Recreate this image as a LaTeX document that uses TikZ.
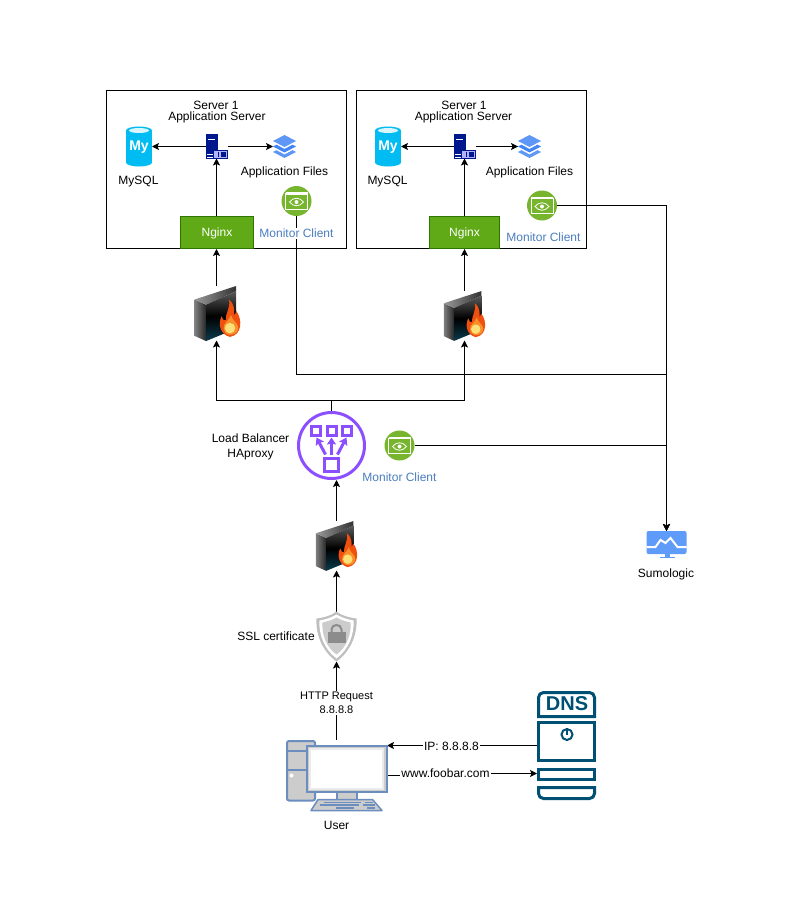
\documentclass[tikz,border=0pt]{standalone}
\usepackage{fontspec}
\setmainfont{Liberation Sans}
\usetikzlibrary{arrows.meta, shapes.geometric}
\definecolor{nginxfill}{HTML}{60A917}
\definecolor{nginxedge}{HTML}{2D7600}
\definecolor{monblue}{HTML}{4A7EBF}
\definecolor{mongreen}{HTML}{76B52D}
\definecolor{lbpurple}{HTML}{8C4FFF}
\definecolor{dnsteal}{HTML}{005073}
\definecolor{dbcyan}{HTML}{00BCF2}
\definecolor{navyrack}{HTML}{00188D}
\definecolor{layerblue}{HTML}{4285F4}
\definecolor{sumoblue}{HTML}{5F9BF8}
\definecolor{pcedge}{HTML}{6C8EBF}
\definecolor{pcgray}{HTML}{CCCCCC}
\definecolor{fwteal}{HTML}{0A3C4E}
\definecolor{flameout}{HTML}{F0500F}
\definecolor{flamemid}{HTML}{F9902A}
\definecolor{flamein}{HTML}{FCE07A}
\tikzset{
    conn/.style={-, black, line width=1pt},
    arrow/.style={-{Stealth[length=7pt,width=7pt,inset=1.5pt]}, black, line width=1pt},
    lab/.style={font=\fontsize{12}{14}\selectfont, align=center, inner sep=1pt},
    labsmall/.style={font=\fontsize{11}{14}\selectfont, align=center, inner sep=1pt, fill=white},
    labmon/.style={lab, text=monblue, fill=white},
    box/.style={draw=black, line width=1pt, fill=white},
    nginx/.style={draw=nginxedge, line width=1pt, fill=nginxfill, text=white, font=\fontsize{12}{14}\selectfont, minimum height=32pt, inner sep=0pt, text depth=1pt},
    icon/.style={inner sep=0pt, outer sep=0pt},
    lbcircle/.style={circle, draw=lbpurple, line width=3pt, minimum size=66pt, inner sep=0pt},
    pics/firewall/.style={code={
        \shade[left color=black!50, right color=black!85] (-22,-13) -- (-11,-8) -- (-11,27) -- (-22,22) -- cycle;
        \shade[left color=black!40, right color=black!80] (-22,-13) -- (18,-26) -- (18,-21) -- (-11,-8) -- cycle;
        \shade[top color=black!65, bottom color=fwteal, middle color=black] (-11,-8) -- (18,-21) -- (18,15) -- (-11,27) -- cycle;
        \fill[flameout] (12,23) .. controls (3,21) and (0,11) .. (4,3) .. controls (5,6) and (6,8) .. (8,7) .. controls (7,1) and (13,-5) .. (11,-13) .. controls (17,-8) and (16,-2) .. (16,2) .. controls (17,1) and (18,0) .. (18,-2) .. controls (24,6) and (24,21) .. (12,23) -- cycle;
        \fill[flamemid] (11.5,21) .. controls (5,20) and (4,12) .. (9,8) .. controls (10,7) and (12,5) .. (13,2) .. controls (14,7) and (20,10) .. (20,14) .. controls (20,19) and (16,21) .. (11.5,21) -- cycle;
        \fill[flamein] (12,14.5) ellipse (5 and 5);
    }},
    pics/shieldlock/.style={code={
        \fill[black!25] (0,-25) .. controls (5,-21) and (12,-19) .. (20,-18) .. controls (21,-2) and (14,15) .. (0,25) .. controls (-14,15) and (-21,-2) .. (-20,-18) .. controls (-12,-19) and (-5,-21) .. (0,-25) -- cycle;
        \fill[white] (0,-22) .. controls (5,-19) and (11,-17) .. (17,-16) .. controls (18,-2) and (12,13) .. (0,22) .. controls (-12,13) and (-18,-2) .. (-17,-16) .. controls (-11,-17) and (-5,-19) .. (0,-22) -- cycle;
        \fill[black!20] (0,-19) .. controls (5,-16) and (10,-15) .. (14,-14) .. controls (15,-2) and (10,11) .. (0,18) .. controls (-10,11) and (-15,-2) .. (-14,-14) .. controls (-10,-15) and (-5,-16) .. (0,-19) -- cycle;
        \draw[black!45, line width=2pt] (-5,-4) -- (-5,-7) .. controls (-5,-13) and (5,-13) .. (5,-7) -- (5,-4);
        \fill[black!45] (-9,-5) rectangle (9,6);
    }},
    pics/dbmysql/.style={code={
        \fill[dbcyan] (-13,-16) rectangle (13,16);
        \fill[dbcyan] (0,-16) ellipse (13 and 4);
        \fill[dbcyan] (0,16) ellipse (13 and 4);
        \fill[white!85!dbcyan] (0,-16) ellipse (10 and 2.5);
        \node[text=white, inner sep=0pt, font=\fontsize{14}{14}\bfseries\selectfont] (-my) at (0,1) {My};
    }},
    pics/rackserver/.style={code={
        \fill[navyrack] (-11,-12) rectangle (1,12);
        \fill[white] (-9,-8) rectangle (-2,-6.5);
        \fill[white] (-9.5,7) rectangle (-3,8.5);
        \fill[white] (-9.5,10) rectangle (-3,11);
        \draw[navyrack, line width=1pt, fill=white!70!blue] (-3,3.5) rectangle (10.5,11.5);
        \fill[navyrack] (1,5) rectangle (2.5,10);
        \fill[navyrack] (4,5) rectangle (9,10);
    }},
    pics/layerstack/.style={code={
        \fill[layerblue!85!white] (0,-11.5) -- (11.5,-5.5) -- (0,0.5) -- (-11.5,-5.5) -- cycle;
        \fill[layerblue] (-11.5,0) -- (-8,-1.8) -- (0,2.5) -- (8,-1.8) -- (11.5,0) -- (0,6) -- cycle;
        \fill[layerblue!85!white] (-11.5,5.5) -- (-8,3.7) -- (0,8) -- (8,3.7) -- (11.5,5.5) -- (0,11.5) -- cycle;
    }},
    pics/monitoreye/.style={code={
        \fill[mongreen] (0,0) circle (15);
        \draw[white, line width=1pt] (-11,-7.5) rectangle (11,8);
        \fill[white] (-11,-9) rectangle (11,-6.5);
        \draw[white, line width=0.8pt] (-7,1) .. controls (-3,-4) and (3,-4) .. (7,1) .. controls (3,6) and (-3,6) .. (-7,1) -- cycle;
        \fill[white] (0,1) circle (2);
    }},
    pics/lbfan/.style={code={
        \draw[lbpurple, line width=3pt] (-20,-19.5) rectangle (-11,-10.5);
        \draw[lbpurple, line width=3pt] (-4.5,-19.5) rectangle (4.5,-10.5);
        \draw[lbpurple, line width=3pt] (11,-19.5) rectangle (20,-10.5);
        \draw[lbpurple, line width=3pt] (-7,12.5) rectangle (7,26);
        \draw[lbpurple, line width=3pt, -{Stealth[length=7pt,width=9pt,inset=1pt]}] (-6,9) -- (-15,-8);
        \draw[lbpurple, line width=3pt, -{Stealth[length=7pt,width=9pt,inset=1pt]}] (0,9) -- (0,-8);
        \draw[lbpurple, line width=3pt, -{Stealth[length=7pt,width=9pt,inset=1pt]}] (6,9) -- (15,-8);
    }},
    pics/screenwave/.style={code={
        \fill[sumoblue, rounded corners=2pt] (-20.5,-13.5) rectangle (19.5,9.5);
        \draw[white, line width=2pt] (-20.5,2.5) -- (-11.5,2.5) -- (-6.5,-4.5) -- (-1.5,-1.5) -- (3.5,-6.5) -- (10.5,2.5) -- (19.5,2.5);
        \fill[sumoblue] (-2.5,9.5) rectangle (2.5,12.5);
        \fill[sumoblue] (-7.5,12.5) rectangle (7.5,13.5);
    }},
    pics/pcdesk/.style={code={
        \draw[pcedge, line width=2pt, fill=pcgray, rounded corners=2pt] (-49.5,-34.5) rectangle (-21.5,25);
        \draw[pcedge, line width=2pt] (-49.5,-25) -- (-30,-25);
        \draw[pcedge, line width=2pt] (-49.5,-5.5) -- (-30,-5.5);
        \fill[white] (-45,0) circle (2);
        \draw[pcedge, line width=2pt, fill=pcgray] (0,16) rectangle (20,25);
        \draw[pcedge, line width=2pt, fill=pcgray] (-30,-30) rectangle (50,16.5);
        \fill[white!92!black] (-27.5,-27.5) rectangle (47.5,14);
        \fill[white] (-25.5,-25.5) rectangle (45.5,12);
        \draw[pcedge, line width=1.5pt, fill=pcgray, line join=round] (-18.5,24) -- (36,24) -- (45.5,35) -- (-25.5,35) -- cycle;
        \draw[pcedge, line width=1.5pt] (-13,27) -- (24,27);
        \draw[pcedge, line width=1.5pt] (28,27) -- (36,27);
        \draw[pcedge, line width=1.5pt] (-17,29.5) -- (22,29.5);
        \draw[pcedge, line width=1.5pt] (26,29.5) -- (38,29.5);
        \draw[pcedge, line width=1.5pt] (-1,32.5) -- (17,32.5);
        \draw[pcedge, line width=1.5pt] (30,32.5) -- (38,32.5);
    }},
    pics/dnsbox/.style={code={
        \draw[dnsteal, line width=3pt] (-28,-29) [rounded corners=5pt] -- (-28,-53) -- (28,-53) [sharp corners] -- (28,-29) -- cycle;
        \draw[dnsteal, line width=3pt] (-28,-23) rectangle (28,15);
        \draw[dnsteal, line width=3pt] (-28,24) rectangle (28,34);
        \draw[dnsteal, line width=3pt] (-28,42) [rounded corners=5pt] -- (-28,53) -- (28,53) [sharp corners] -- (28,42) -- cycle;
        \draw[dnsteal, line width=2pt] (0.5,-11) circle (5.5);
        \draw[dnsteal, line width=2pt] (0.5,-16) -- (0.5,-10.5);
        \node[text=dnsteal, inner sep=0pt, font=\fontsize{20}{20}\bfseries\selectfont] (-title) at (0.5,-41.5) {DNS};
    }},
}
\begin{document}
\begin{tikzpicture}[x=1pt, y=-1pt]
    \useasboundingbox (0,0) rectangle (789,923);

    \node[box, minimum width=240pt, minimum height=158pt] (srvbox1) at (226.5,169.5) {};
    \node[box, minimum width=230pt, minimum height=158pt] (srvbox2) at (471.5,169.5) {};

    \node[icon, minimum width=26pt, minimum height=40pt] (db1) at (139,146.5) {};
    \node[icon, minimum width=26pt, minimum height=40pt] (db2) at (388,146.5) {};
    \node[icon, minimum width=22pt, minimum height=24pt] (rack1) at (216.5,146.5) {};
    \node[icon, minimum width=22pt, minimum height=24pt] (rack2) at (464.5,146.5) {};
    \node[icon, minimum width=23pt, minimum height=23pt] (files1) at (284.5,146.5) {};
    \node[icon, minimum width=23pt, minimum height=23pt] (files2) at (529.5,146.5) {};
    \node[icon, minimum width=30pt, minimum height=30pt] (mon1) at (296.5,201) {};
    \node[icon, minimum width=30pt, minimum height=30pt] (mon2) at (542,205.5) {};
    \node[icon, minimum width=30pt, minimum height=30pt] (mon3) at (399.5,445.5) {};
    \node[nginx, minimum width=72.5pt] (nginx1) at (217,232.5) {Nginx};
    \node[nginx, minimum width=70pt] (nginx2) at (464.5,232.5) {Nginx};
    \node[icon, minimum width=46pt, minimum height=55pt] (fw1) at (216.5,313) {};
    \node[icon, minimum width=40pt, minimum height=50pt] (fw2) at (464.5,315.5) {};
    \node[icon, minimum width=41pt, minimum height=50pt] (fw3) at (336.5,545.5) {};
    \node[lbcircle] (lb) at (331.5,445.5) {};
    \node[icon, minimum width=40pt, minimum height=50pt] (ssl) at (336.5,636.5) {};
    \node[icon, minimum width=40pt, minimum height=27pt] (sumo) at (666.5,544.5) {};
    \node[icon, minimum width=101pt, minimum height=71pt] (user) at (336.5,775.5) {};
    \node[icon, minimum width=59pt, minimum height=109pt] (dns) at (566.5,745.5) {};

    \coordinate (lbjoin) at (331.5,400.5);
    \coordinate (busone) at (500,374.5);
    \coordinate (ipin) at (387,745.5);
    \coordinate (wwwout) at (387,775.5);
    \coordinate (wwwin) at (537,773.5);

    \draw[arrow] (rack1.west) -- (db1.east);
    \draw[arrow] (rack1.east) -- (files1.west);
    \draw[arrow] (rack2.west) -- (db2.east);
    \draw[arrow] (rack2.east) -- (files2.west);
    \draw[arrow] (nginx1.north -| rack1) -- (rack1.south);
    \draw[arrow] (nginx2.north) -- (rack2.south);
    \draw[arrow] (fw1.north) -- (fw1.north |- nginx1.south);
    \draw[arrow] (fw2.north) -- (nginx2.south);
    \draw[conn] (lb.north) -- (lbjoin);
    \draw[arrow] (lbjoin) -| (fw1.south);
    \draw[arrow] (lbjoin) -| (fw2.south);
    \draw[arrow] (fw3.north) -- (fw3.north |- lb.south);
    \draw[arrow] (ssl.north) -- (fw3.south);
    \draw[arrow] (user.north) -- (ssl.south);
    \draw[arrow] (dns.west |- ipin) -- (ipin);
    \draw[arrow] (wwwout) -- ++(50,0) -- ++(0,-2) -- (wwwin);
    \draw[arrow] (mon1.south) |- (busone) -| (sumo.north);
    \draw[arrow] (mon2.east) -| (sumo.north);
    \draw[arrow] (mon3.east) -| (sumo.north);

    \pic (dbpic1) at (db1) {dbmysql};
    \pic (dbpic2) at (db2) {dbmysql};
    \pic at (rack1) {rackserver};
    \pic at (rack2) {rackserver};
    \pic at (files1) {layerstack};
    \pic at (files2) {layerstack};
    \pic at (mon1) {monitoreye};
    \pic at (mon2) {monitoreye};
    \pic at (mon3) {monitoreye};
    \pic[scale=1.04] at ([xshift=1pt]fw1) {firewall};
    \pic[scale=0.94] at (fw2) {firewall};
    \pic[scale=0.94] at (fw3) {firewall};
    \pic at (lb) {lbfan};
    \pic at (ssl) {shieldlock};
    \pic at ([xshift=0.5pt]sumo) {screenwave};
    \pic at (user) {pcdesk};
    \pic (dnspic) at (dns) {dnsbox};

    \node[lab] (srvname1) at (216,105) {Server 1};
    \node[lab] (srvrole1) at (217,117.5) {Application Server};
    \node[lab] (srvname2) at (464,105) {Server 1};
    \node[lab] (srvrole2) at (463.5,117.5) {Application Server};
    \node[lab] (dbname1) at (138.5,182) {MySQL};
    \node[lab] (dbname2) at (387.5,182) {MySQL};
    \node[lab] (filesname1) at (284.5,172) {Application Files};
    \node[lab] (filesname2) at (529.5,172) {Application Files};
    \node[labmon] (monname1) at (296.5,233.5) {Monitor Client};
    \node[labmon] (monname2) at (543.5,237.5) {Monitor Client};
    \node[labmon] (monname3) at (399.5,477.5) {Monitor Client};
    \node[lab] (lbname) at (250.5,446.5) {Load Balancer\\[1pt]HAproxy};
    \node[lab] (sslname) at (276,636.5) {SSL certificate};
    \node[lab] (sumoname) at (666,574) {Sumologic};
    \node[lab] (username) at (336.5,825) {User};
    \node[labsmall] (httplab) at (336.5,703) {HTTP Request\\8.8.8.8};
    \node[lab, fill=white] (iplab) at (451.5,746.5) {IP: 8.8.8.8};
    \node[lab, fill=white] (wwwlab) at (445.5,773) {www.foobar.com};
\end{tikzpicture}
\end{document}
